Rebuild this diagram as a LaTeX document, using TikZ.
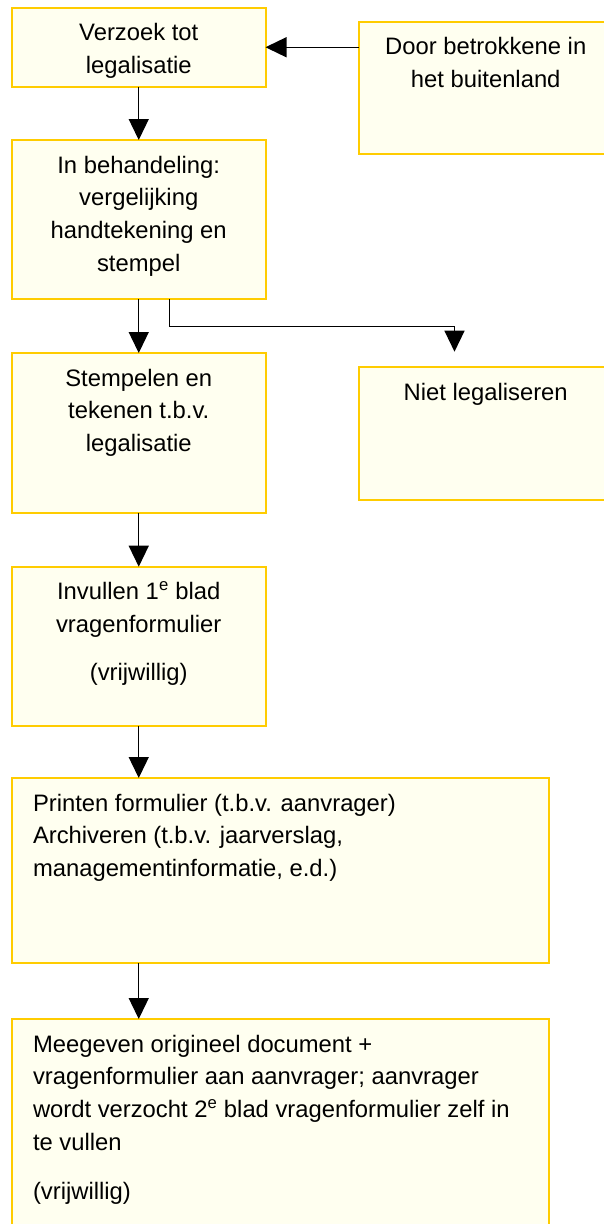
\documentclass[tikz,border=0pt]{standalone}
\usepackage{fontspec}
\setmainfont{Liberation Sans}
\usetikzlibrary{arrows.meta}
\definecolor{boxfill}{RGB}{255,255,240}
\definecolor{boxline}{RGB}{255,204,0}
\newcommand{\boxtext}[4]{\begin{minipage}[t][#2][t]{#1}#3\rule{0pt}{33pt}#4\end{minipage}}
\newcommand{\lefttext}{\raggedright\leftskip=21pt}

\begin{document}
\begin{tikzpicture}[x=1pt,y=1pt,>={Triangle[length=21pt,width=20pt]},
  flowbox/.style={draw=boxline,fill=boxfill,line width=2pt,inner sep=0pt,outer sep=0pt,anchor=north west,font=\fontsize{23.8}{32.7}\selectfont},
  flowline/.style={->,line width=1.3pt}]
\useasboundingbox (0,0) rectangle (604,-1224);
\clip (0,0) rectangle (604,-1224);
\node[flowbox] (verzoek) at (12,-7.5) {\boxtext{253.5pt}{79.5pt}{\centering}{Verzoek tot\\legalisatie}};
\node[flowbox] (buitenland) at (359,-21.7) {\boxtext{253.5pt}{132.3pt}{\centering}{Door betrokkene in\\het buitenland}};
\node[flowbox] (behandeling) at (12,-140) {\boxtext{253.5pt}{159pt}{\centering}{In behandeling:\\vergelijking\\handtekening en\\stempel}};
\node[flowbox] (stempelen) at (12,-353) {\boxtext{253.5pt}{159.5pt}{\centering}{Stempelen en\\tekenen t.b.v.\\legalisatie}};
\node[flowbox] (niet) at (359,-367) {\boxtext{253.5pt}{133pt}{\centering}{Niet legaliseren}};
\node[flowbox] (invullen) at (12,-566.7) {\boxtext{253.5pt}{159.3pt}{\centering}{Invullen 1\textsuperscript{e} blad\\vragenformulier\\[15pt](vrijwillig)}};
\node[flowbox] (printen) at (12,-778) {\boxtext{537pt}{185pt}{\lefttext}{Printen formulier (t.b.v. aanvrager)\\Archiveren (t.b.v. jaarverslag,\\managementinformatie, e.d.)}};
\node[flowbox] (meegeven) at (12,-1019) {\boxtext{537pt}{230pt}{\lefttext}{Meegeven origineel document +\\vragenformulier aan aanvrager; aanvrager\\wordt verzocht 2\textsuperscript{e} blad vragenformulier zelf in\\te vullen\\[17pt](vrijwillig)}};
\coordinate (nietin) at (454.5,-351.7);
\draw[flowline] (buitenland.west |- verzoek.east) -- (verzoek.east);
\draw[flowline] (verzoek.south) -- (behandeling.north);
\draw[flowline] (behandeling.south) -- (stempelen.north);
\draw[flowline] ([xshift=31pt]behandeling.south) -- ++(0,-27.7) -| (nietin);
\draw[flowline] (stempelen.south) -- (invullen.north);
\draw[flowline] (invullen.south) -- (invullen.south |- printen.north);
\draw[flowline] (invullen.south |- printen.south) -- (invullen.south |- meegeven.north);
\end{tikzpicture}
\end{document}
